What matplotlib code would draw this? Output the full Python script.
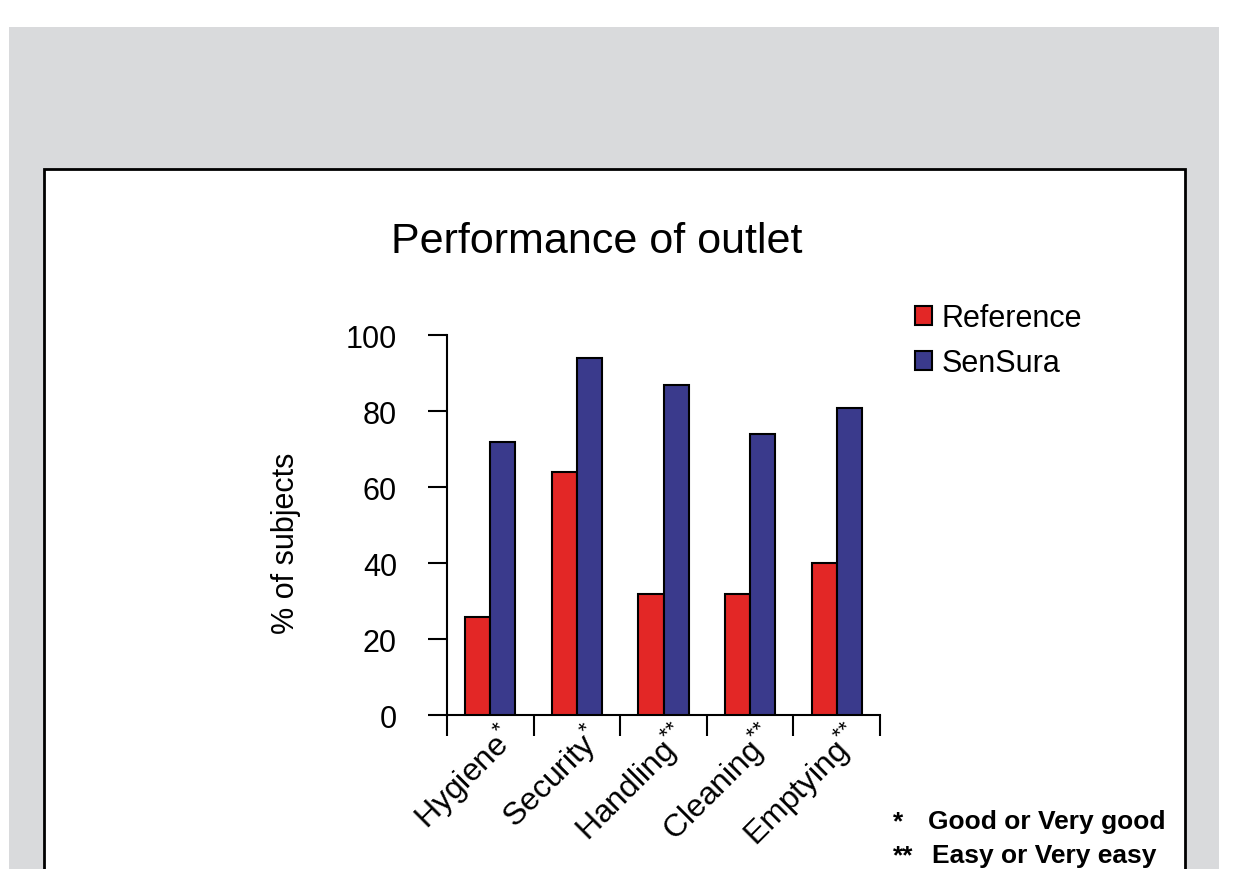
import matplotlib.pyplot as plt
import matplotlib.patches as patches
from matplotlib.transforms import ScaledTranslation
import numpy as np

plt.rcParams['font.family'] = ['Liberation Sans', 'DejaVu Sans']

# data
categories = ["Hygiene", "Security", "Handling", "Cleaning", "Emptying"]
marks = ["{*}", "{*}", "{*}{*}", "{*}{*}", "{*}{*}"]
reference = [26, 64, 32, 32, 40]
sensura = [72, 94, 87, 74, 81]

RED = '#e32726'
BLUE = '#3a3a8c'
W, H = 1240, 870

fig = plt.figure(figsize=(12.4, 8.7), dpi=100)
fig.patch.set_facecolor('white')

# grey page background and white chart box
fig.patches.append(patches.Rectangle((9 / W, 0), (1219 - 9) / W, (870 - 28) / H,
                                     transform=fig.transFigure, facecolor='#d9dadc',
                                     edgecolor='none', zorder=0))
fig.patches.append(patches.Rectangle((44 / W, -0.05), (1185 - 44) / W, (870 - 170) / H + 0.05,
                                     transform=fig.transFigure, facecolor='white',
                                     edgecolor='black', linewidth=2, zorder=1))

ax = fig.add_axes([447 / W, 1 - 716.3 / H, (880 - 447) / W, (716.3 - 336.3) / H])
ax.set_facecolor('none')
ax.set_zorder(5)

x = np.arange(len(categories))
bw = 0.29
ax.bar(x - bw / 2, reference, bw, color=RED, edgecolor='black', linewidth=1.5,
       label='Reference', zorder=3)
ax.bar(x + bw / 2, sensura, bw, color=BLUE, edgecolor='black', linewidth=1.5,
       label='SenSura', zorder=3)

ax.set_xlim(-0.5, len(categories) - 0.5)
ax.set_ylim(0, 100)
ax.set_yticks([0, 20, 40, 60, 80, 100])
ax.tick_params(axis='y', length=14, width=1.5, labelsize=22, pad=22)

# ticks at category boundaries, labels at centres
ax.set_xticks(np.arange(len(categories) + 1) - 0.5)
ax.set_xticklabels([])
ax.tick_params(axis='x', which='major', length=15, width=1.5)
ax.set_xticks(x, minor=True)
ax.set_xticklabels([c + r"$^{\mathregular{" + m + "}}$" for c, m in zip(categories, marks)],
                   minor=True, rotation=45, ha='right', va='top', rotation_mode='anchor',
                   fontsize=23)
ax.tick_params(axis='x', which='minor', length=0, pad=1)
shift = ScaledTranslation(6 / 100, 0, fig.dpi_scale_trans)
for lbl in ax.get_xticklabels(minor=True):
    lbl.set_transform(lbl.get_transform() + shift)

for s in ['top', 'right']:
    ax.spines[s].set_visible(False)
for s in ['left', 'bottom']:
    ax.spines[s].set_linewidth(1.5)

ax.set_ylabel('% of subjects', fontsize=22)
ax.yaxis.set_label_coords(-0.338, 0.455)

fig.text(597 / W, 1 - 242 / H, 'Performance of outlet', fontsize=31,
         ha='center', va='center')

fig.legend(loc='upper left', bbox_to_anchor=(903 / W, 1 - 292 / H), frameon=False,
           fontsize=22, handlelength=0.55, handleheight=0.55, handletextpad=0.3,
           labelspacing=0.5, borderaxespad=0)

fig.text(893 / W, 1 - 822 / H, '*', fontsize=19, fontweight='bold', va='center')
fig.text(928 / W, 1 - 822 / H, 'Good or Very good', fontsize=19, fontweight='bold', va='center')
fig.text(893 / W, 1 - 856 / H, '**', fontsize=19, fontweight='bold', va='center')
fig.text(932 / W, 1 - 856 / H, 'Easy or Very easy', fontsize=19, fontweight='bold', va='center')

fig.savefig('out.png', dpi=100)
